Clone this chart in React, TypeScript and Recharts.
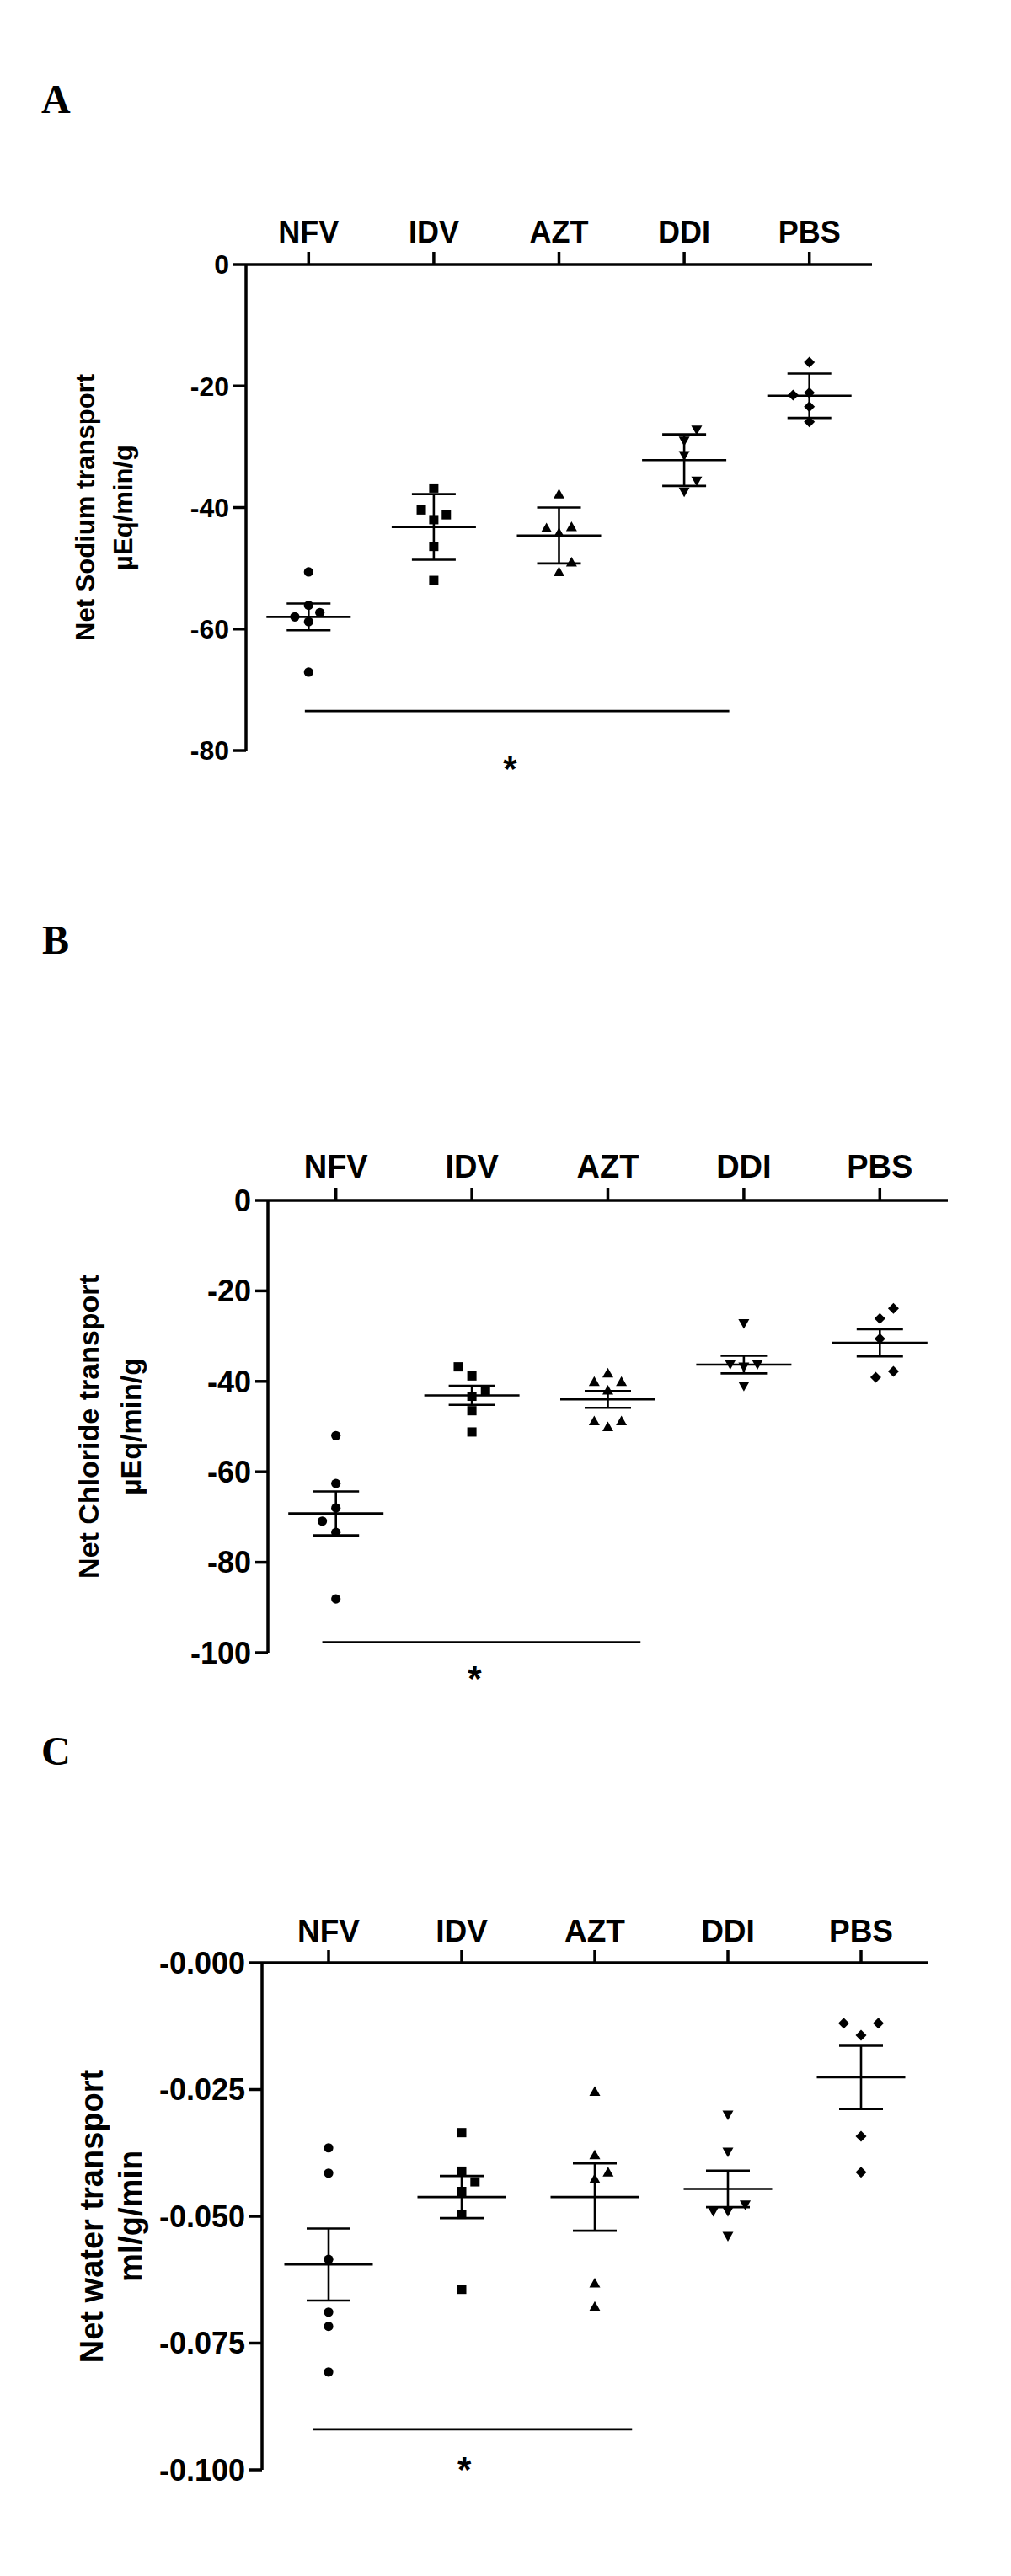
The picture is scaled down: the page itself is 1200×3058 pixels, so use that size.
import { ScatterChart, Scatter, XAxis, YAxis, ErrorBar, ReferenceLine, ReferenceDot } from 'recharts';

const FONT = '"Liberation Sans", Arial, Helvetica, sans-serif';

const categories = ['NFV', 'IDV', 'AZT', 'DDI', 'PBS'];
const markerKinds = ['circle', 'square', 'triangle', 'triangleDown', 'diamond'];

// x = group index (+ small jitter where points overlap), y = measured value

// A: net sodium transport, µEq/min/g
const sodiumNFV = [{ x: 0, y: -50.6 }, { x: 0, y: -56.1 }, { x: -0.11, y: -58.0 }, { x: 0.09, y: -57.3 }, { x: 0, y: -58.8 }, { x: 0, y: -67.1 }];
const sodiumIDV = [{ x: 1, y: -36.8 }, { x: 0.9, y: -40.4 }, { x: 1.1, y: -41.2 }, { x: 1, y: -42.0 }, { x: 1, y: -46.4 }, { x: 1, y: -52.0 }];
const sodiumAZT = [{ x: 2, y: -37.8 }, { x: 1.9, y: -43.4 }, { x: 2.1, y: -43.2 }, { x: 2, y: -44.2 }, { x: 2.1, y: -49.0 }, { x: 2, y: -50.6 }];
const sodiumDDI = [{ x: 3.1, y: -27.2 }, { x: 3, y: -29.0 }, { x: 3, y: -31.4 }, { x: 3.1, y: -35.6 }, { x: 3, y: -37.4 }];
const sodiumPBS = [{ x: 4, y: -16.1 }, { x: 3.87, y: -21.5 }, { x: 4, y: -21.1 }, { x: 4, y: -23.4 }, { x: 4, y: -25.9 }];
const sodiumMean = [-58.0, -43.2, -44.6, -32.2, -21.6];
const sodiumSem = [2.2, 5.4, 4.6, 4.25, 3.65];
const sodiumTicks = [-80, -60, -40, -20, 0];

// B: net chloride transport, µEq/min/g
const chlorideNFV = [{ x: 0, y: -52.0 }, { x: 0, y: -62.6 }, { x: 0, y: -68.0 }, { x: -0.1, y: -70.9 }, { x: 0, y: -73.4 }, { x: 0, y: -88.1 }];
const chlorideIDV = [{ x: 0.9, y: -36.8 }, { x: 1, y: -38.8 }, { x: 1.1, y: -42.2 }, { x: 1, y: -43.3 }, { x: 1, y: -46.5 }, { x: 1, y: -51.2 }];
const chlorideAZT = [{ x: 2, y: -38.2 }, { x: 1.9, y: -40.1 }, { x: 2.1, y: -40.1 }, { x: 2, y: -42.0 }, { x: 1.9, y: -48.8 }, { x: 2.1, y: -48.8 }, { x: 2, y: -50.1 }];
const chlorideDDI = [{ x: 3, y: -27.2 }, { x: 2.9, y: -36.2 }, { x: 3, y: -36.8 }, { x: 3.1, y: -36.2 }, { x: 3, y: -41.0 }];
const chloridePBS = [{ x: 4.1, y: -23.9 }, { x: 4, y: -26.1 }, { x: 4, y: -30.6 }, { x: 4.1, y: -37.8 }, { x: 3.97, y: -39.1 }];
const chlorideMean = [-69.2, -43.1, -44.0, -36.3, -31.5];
const chlorideSem = [4.85, 2.1, 1.85, 1.95, 3.0];
const chlorideTicks = [-100, -80, -60, -40, -20, 0];

// C: net water transport, ml/g/min
const waterNFV = [{ x: 0, y: -0.0365 }, { x: 0, y: -0.0415 }, { x: 0, y: -0.0585 }, { x: 0, y: -0.0689 }, { x: 0, y: -0.0717 }, { x: 0, y: -0.0807 }];
const waterIDV = [{ x: 1, y: -0.0335 }, { x: 1, y: -0.0411 }, { x: 1.1, y: -0.0432 }, { x: 1, y: -0.0451 }, { x: 1, y: -0.0496 }, { x: 1, y: -0.0644 }];
const waterAZT = [{ x: 2, y: -0.0254 }, { x: 2, y: -0.0379 }, { x: 2.1, y: -0.0413 }, { x: 2, y: -0.0426 }, { x: 2, y: -0.0632 }, { x: 2, y: -0.0678 }];
const waterDDI = [{ x: 3, y: -0.03 }, { x: 3, y: -0.0373 }, { x: 2.89, y: -0.049 }, { x: 3.13, y: -0.0477 }, { x: 3, y: -0.049 }, { x: 3, y: -0.0539 }];
const waterPBS = [{ x: 3.87, y: -0.0119 }, { x: 4.13, y: -0.0119 }, { x: 4, y: -0.0143 }, { x: 4, y: -0.0342 }, { x: 4, y: -0.0413 }];
const waterMean = [-0.0595, -0.0462, -0.0462, -0.0446, -0.0226];
const waterSem = [0.0071, 0.00415, 0.00665, 0.0036, 0.00625];
const waterTicks = [-0.1, -0.075, -0.05, -0.025, 0];

// significance bar: [x start, x end, y] and asterisk [x, y]
const sodiumSig = [-0.03, 3.36, -73.5];
const sodiumStar = [1.61, -81.6];
const chlorideSig = [-0.1, 2.24, -97.7];
const chlorideStar = [1.02, -104];
const waterSig = [-0.12, 2.28, -0.092];
const waterStar = [1.02, -0.0984];

function Marker({ cx, cy, kind }: { cx: number; cy: number; kind: string }) {
  if (cx == null || cy == null) return null;
  switch (kind) {
    case 'circle':
      return <circle cx={cx} cy={cy} r={5.6} fill="#000" />;
    case 'square':
      return <rect x={cx - 5.5} y={cy - 5.5} width={11} height={11} fill="#000" />;
    case 'triangle':
      return <polygon points={`${cx},${cy - 6.5} ${cx + 6.5},${cy + 5} ${cx - 6.5},${cy + 5}`} fill="#000" />;
    case 'triangleDown':
      return <polygon points={`${cx - 6.5},${cy - 5} ${cx + 6.5},${cy - 5} ${cx},${cy + 6.5}`} fill="#000" />;
    default:
      return <polygon points={`${cx},${cy - 6.5} ${cx + 6.5},${cy} ${cx},${cy + 6.5} ${cx - 6.5},${cy}`} fill="#000" />;
  }
}

type PanelProps = {
  top: number;
  height: number;
  plot: { left: number; right: number; top: number; bottom: number };
  groups: { x: number; y: number }[][];
  mean: number[];
  sem: number[];
  yTicks: number[];
  yFormat: (v: number) => string;
  titles: string[];
  titleSize: number;
  titleX: number[];
  xFont: number;
  yFont: number;
  xMargin: number;
  meanWidth: number;
  capWidth: number;
  sig: number[];
  star: number[];
};

function Panel(p: PanelProps) {
  const meanData = p.mean.map((y, i) => ({ x: i, y, sem: p.sem[i] }));
  const midY = (p.plot.top + p.plot.bottom) / 2;
  const tickFont = { fontFamily: FONT, fontWeight: 'bold', fill: '#000' };
  const axisStyle = { stroke: '#000', strokeWidth: 3.5 };
  const yDomain = [p.yTicks[0], p.yTicks[p.yTicks.length - 1]];

  const renderTitle = () => (
    <g>
      {p.titles.map((t, i) => (
        <text
          key={t}
          transform={`translate(${p.titleX[i]}, ${midY}) rotate(-90)`}
          textAnchor="middle"
          fontFamily={FONT}
          fontWeight="bold"
          fontSize={p.titleSize}
          fill="#000"
        >
          {t}
        </text>
      ))}
    </g>
  );

  return (
    <div style={{ position: 'absolute', left: 0, top: p.top }}>
      <ScatterChart
        width={1200}
        height={p.height}
        margin={{ top: p.plot.top - 60, right: 1200 - p.plot.right, bottom: p.height - p.plot.bottom, left: 0 }}
      >
        <XAxis
          type="number"
          dataKey="x"
          orientation="top"
          domain={[-0.5, 4.5]}
          ticks={[0, 1, 2, 3, 4]}
          interval={0}
          allowDataOverflow
          height={60}
          tickFormatter={(v: number) => categories[v]}
          tick={{ ...tickFont, fontSize: p.xFont }}
          tickSize={15}
          tickMargin={p.xMargin}
          axisLine={axisStyle}
          tickLine={axisStyle}
        />
        <YAxis
          type="number"
          dataKey="y"
          domain={yDomain}
          ticks={p.yTicks}
          interval={0}
          allowDataOverflow
          width={p.plot.left}
          tickFormatter={p.yFormat}
          tick={{ ...tickFont, fontSize: p.yFont }}
          tickSize={15}
          tickMargin={5}
          axisLine={axisStyle}
          tickLine={axisStyle}
          label={renderTitle}
        />
        {p.groups.map((g, i) => (
          <Scatter
            key={categories[i]}
            data={g}
            isAnimationActive={false}
            shape={(s: any) => <Marker cx={s.cx} cy={s.cy} kind={markerKinds[i]} />}
          />
        ))}
        <Scatter
          data={meanData}
          isAnimationActive={false}
          shape={(s: any) =>
            s.cx == null ? null : (
              <line x1={s.cx - p.meanWidth / 2} x2={s.cx + p.meanWidth / 2} y1={s.cy} y2={s.cy} stroke="#000" strokeWidth={2.6} />
            )
          }
        >
          <ErrorBar dataKey="sem" direction="y" width={p.capWidth / 2} stroke="#000" strokeWidth={2.6} isAnimationActive={false} />
        </Scatter>
        <ReferenceLine
          segment={[{ x: p.sig[0], y: p.sig[2] }, { x: p.sig[1], y: p.sig[2] }]}
          stroke="#000"
          strokeWidth={2.6}
          ifOverflow="visible"
        />
        <ReferenceDot
          x={p.star[0]}
          y={p.star[1]}
          r={0}
          ifOverflow="visible"
          shape={(s: any) => (
            <text x={s.cx} y={s.cy + 24} textAnchor="middle" fontFamily={FONT} fontWeight="bold" fontSize={42} fill="#000">
              *
            </text>
          )}
        />
      </ScatterChart>
    </div>
  );
}

const intFormat = (v: number) => String(v);
const waterFormat = (v: number) => '-' + Math.abs(v).toFixed(3);

export default function App() {
  return (
    <div style={{ position: 'absolute', left: 0, top: 0, width: 1200, height: 3058, background: '#fff' }}>
      <svg width={1200} height={3058} style={{ position: 'absolute', left: 0, top: 0 }}>
        <text x={49} y={134} fontFamily='"Liberation Serif", "Times New Roman", serif' fontWeight="bold" fontSize={48}>A</text>
        <text x={50} y={1132} fontFamily='"Liberation Serif", "Times New Roman", serif' fontWeight="bold" fontSize={48}>B</text>
        <text x={49} y={2095} fontFamily='"Liberation Serif", "Times New Roman", serif' fontWeight="bold" fontSize={48}>C</text>
      </svg>
      <Panel
        top={0}
        height={1000}
        plot={{ left: 292, right: 1035, top: 314, bottom: 891 }}
        groups={[sodiumNFV, sodiumIDV, sodiumAZT, sodiumDDI, sodiumPBS]}
        mean={sodiumMean}
        sem={sodiumSem}
        yTicks={sodiumTicks}
        yFormat={intFormat}
        titles={['Net Sodium transport', 'µEq/min/g']}
        titleSize={31}
        titleX={[112, 157]}
        xFont={36}
        yFont={32}
        xMargin={11}
        meanWidth={100}
        capWidth={52}
        sig={sodiumSig}
        star={sodiumStar}
      />
      <Panel
        top={1000}
        height={1050}
        plot={{ left: 318, right: 1125, top: 425, bottom: 962 }}
        groups={[chlorideNFV, chlorideIDV, chlorideAZT, chlorideDDI, chloridePBS]}
        mean={chlorideMean}
        sem={chlorideSem}
        yTicks={chlorideTicks}
        yFormat={intFormat}
        titles={['Net Chloride transport', 'µEq/min/g']}
        titleSize={34}
        titleX={[117, 167]}
        xFont={38}
        yFont={36}
        xMargin={12}
        meanWidth={113}
        capWidth={55}
        sig={chlorideSig}
        star={chlorideStar}
      />
      <Panel
        top={2050}
        height={1008}
        plot={{ left: 311, right: 1101, top: 280, bottom: 882 }}
        groups={[waterNFV, waterIDV, waterAZT, waterDDI, waterPBS]}
        mean={waterMean}
        sem={waterSem}
        yTicks={waterTicks}
        yFormat={waterFormat}
        titles={['Net water transport', 'ml/g/min']}
        titleSize={38}
        titleX={[122, 168]}
        xFont={37}
        yFont={36}
        xMargin={10}
        meanWidth={105}
        capWidth={52}
        sig={waterSig}
        star={waterStar}
      />
    </div>
  );
}
